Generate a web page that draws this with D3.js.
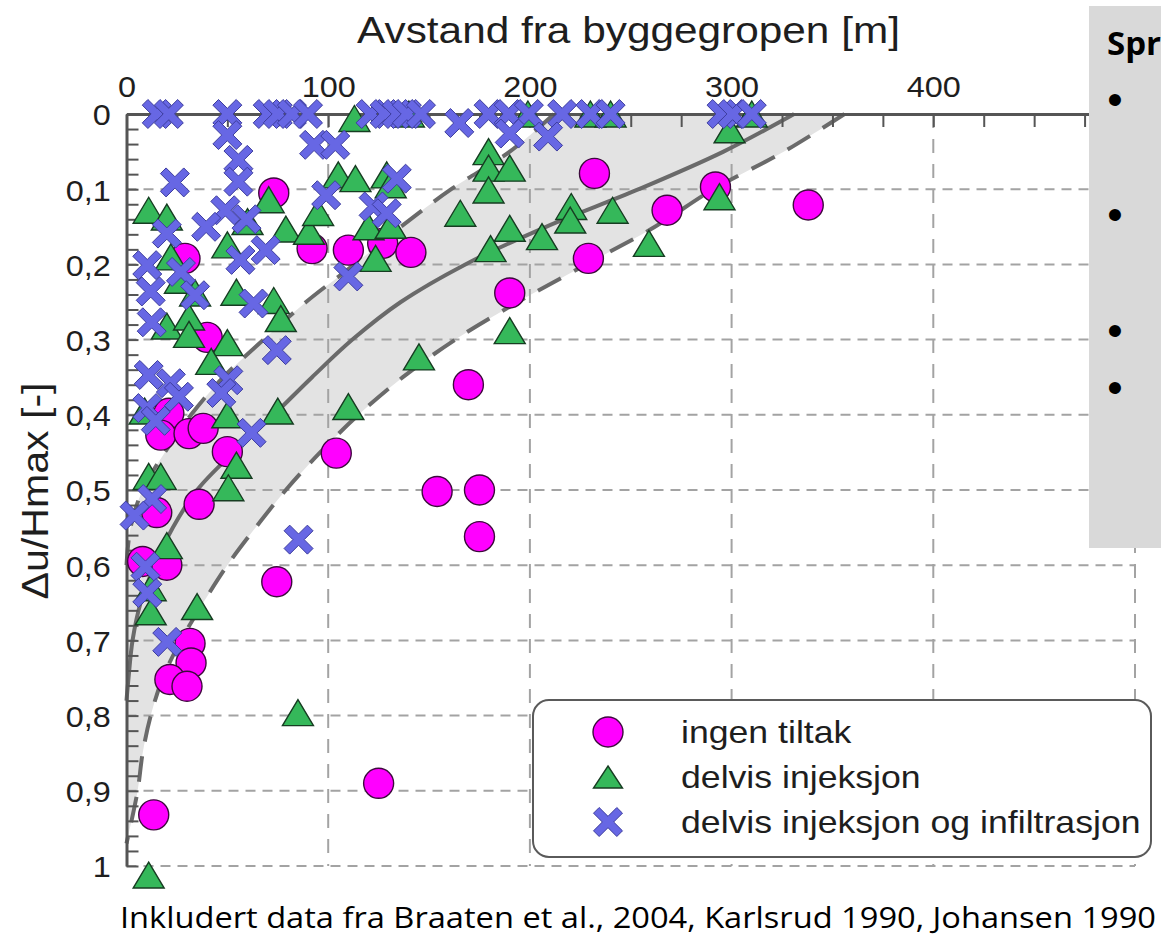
<!DOCTYPE html>
<html>
<head>
<meta charset="utf-8">
<script src="https://cdn.jsdelivr.net/npm/d3@7"></script>
<style>
  body { margin: 0; background: #fff; }
  text { font-family: "Liberation Sans", Arial, sans-serif; fill: #1e1e1e; }
</style>
</head>
<body>
<script>

var width = 1161,
	height = 938;

// axes
var xTicks = [0, 100, 200, 300, 400];
var yTicks = [0, 0.1, 0.2, 0.3, 0.4, 0.5, 0.6, 0.7, 0.8, 0.9, 1];
var yTickLabels = ["0", "0,1", "0,2", "0,3", "0,4", "0,5", "0,6", "0,7", "0,8", "0,9", "1"];
var xGrid = [100, 200, 300, 400, 500];
var yGrid = [0.1, 0.2, 0.3, 0.4, 0.5, 0.6, 0.7, 0.8, 0.9, 1];

// band curves
var bandLeftY = [0, 0.05, 0.1, 0.15, 0.2, 0.25, 0.3, 0.35, 0.4, 0.45, 0.5, 0.55, 0.6];
var bandLeftX = [212, 190, 161, 136, 113, 89, 68, 48, 32, 19, 8, 2, 0];
var meanY = [0, 0.05, 0.1, 0.15, 0.2, 0.25, 0.3, 0.35, 0.4, 0.45, 0.5, 0.55, 0.6, 0.65, 0.7, 0.75, 0.78];
var meanX = [331, 296, 254, 208, 168, 136, 112, 92, 73, 53, 35, 23, 14, 7, 3, 1, 0];
var bandRightY = [0, 0.05, 0.1, 0.15, 0.2, 0.25, 0.3, 0.35, 0.4, 0.45, 0.5, 0.55, 0.6, 0.65, 0.7, 0.75, 0.8, 0.85, 0.9, 0.97];
var bandRightX = [356, 326, 291, 262, 228, 194, 163, 137, 115, 96, 79, 64, 50, 38, 27, 18, 12, 8, 5.5, 0];

// ingen tiltak (circles)
var ingenX = [73, 92, 110, 127, 141, 29, 190, 232, 292, 268, 338, 229, 40, 21, 17, 31, 38, 50, 104, 169.5, 154, 175, 175, 15, 36, 8, 20, 74.5, 31.5, 32, 21.5, 30, 13.5, 125];
var ingenY = [0.105, 0.179, 0.181, 0.172, 0.184, 0.192, 0.238, 0.079, 0.097, 0.128, 0.121, 0.192, 0.297, 0.398, 0.427, 0.425, 0.418, 0.449, 0.451, 0.36, 0.502, 0.5, 0.562, 0.53, 0.519, 0.595, 0.6, 0.622, 0.704, 0.73, 0.752, 0.761, 0.932, 0.89];

// delvis injeksjon (triangles)
var delvisX = [11, 20, 22, 26.5, 34, 50, 60, 79, 90.5, 95, 70.5, 54.5, 73, 76.5, 105, 113.5, 129, 131, 120, 131, 123.5, 113, 140, 199, 179.5, 179.5, 190, 179.5, 165.5, 190, 206, 180.5, 220.5, 220, 241, 259, 294, 299, 230, 240, 310, 190, 145, 110, 20, 31, 31, 50, 42, 50, 75, 9, 54.5, 50.5, 11, 17, 20, 12, 12, 35, 85, 11];
var delvisY = [0.128, 0.137, 0.19, 0.221, 0.238, 0.174, 0.143, 0.153, 0.156, 0.131, 0.114, 0.237, 0.248, 0.272, 0.081, 0.086, 0.081, 0.094, 0.15, 0.148, 0.192, 0.006, 0, 0, 0.05, 0.072, 0.072, 0.101, 0.132, 0.152, 0.163, 0.179, 0.123, 0.141, 0.128, 0.172, 0.11, 0.021, 0, 0, 0, 0.288, 0.323, 0.389, 0.282, 0.27, 0.293, 0.304, 0.329, 0.4, 0.395, 0.395, 0.467, 0.497, 0.482, 0.482, 0.574, 0.63, 0.662, 0.655, 0.796, 1.012];

// delvis injeksjon og infiltrasjon (crosses)
var infilX = [15, 21, 50, 70, 75, 82, 90, 121, 128, 134, 139, 146, 179.5, 189.5, 199.5, 216, 230, 240, 295, 300.5, 310, 165, 50, 93, 103.5, 55.5, 55.5, 24, 99, 49, 59.5, 39.5, 20, 69, 56.5, 10.3, 27, 110, 122.5, 129, 134, 190, 209, 12, 34, 63, 12.5, 74.5, 11, 22, 26, 50.5, 47, 10.3, 14.5, 62, 12.7, 4, 85.3, 9.4, 10.3, 20.2];
var infilY = [0, 0, 0, 0, 0, 0, 0, 0, 0, 0, 0, 0, 0, 0, 0, 0, 0, 0, 0, 0, 0, 0.012, 0.028, 0.041, 0.041, 0.061, 0.09, 0.091, 0.108, 0.128, 0.14, 0.15, 0.159, 0.181, 0.194, 0.201, 0.21, 0.216, 0.123, 0.132, 0.086, 0.026, 0.03, 0.236, 0.241, 0.252, 0.277, 0.314, 0.347, 0.358, 0.376, 0.354, 0.371, 0.391, 0.408, 0.424, 0.512, 0.534, 0.566, 0.602, 0.637, 0.702];

var seriesNames = ["ingen tiltak", "delvis injeksjon", "delvis injeksjon og infiltrasjon"];

var magenta = "#ff00ff",
	green = "#35b85a",
	blue = "#6767e4",
	linecolor = "#6a6a6a",
	gridcolor = "#a3a3a3",
	axiscolor = "#555";

var X = d3.scaleLinear().domain([0, 500]).range([126.5, 1135]);
var Y = d3.scaleLinear().domain([0, 1]).range([114, 866]);

var svg = d3.select("body").append("svg")
	.attr("width", width)
	.attr("height", height);

// gray band

var curve = d3.line()
	.x(function(d){ return X(d[0]); })
	.y(function(d){ return Y(d[1]); })
	.curve(d3.curveCatmullRom.alpha(0.5));

var leftPts = d3.zip(bandLeftX, bandLeftY),
	rightPts = d3.zip(bandRightX, bandRightY),
	meanPts = d3.zip(meanX, meanY);

var bandPath = curve(leftPts)
	+ "L" + X(0) + "," + Y(1)
	+ curve(rightPts.slice().reverse()).replace(/^M/, "L")
	+ "Z";

svg.append("path")
	.attr("d", bandPath)
	.attr("fill", "#e3e3e3");

// grid

svg.selectAll(".hgrid").data(yGrid).enter().append("line")
	.attr("class", "hgrid")
	.attr("x1", X(0)).attr("x2", X(500))
	.attr("y1", function(d){ return Y(d); })
	.attr("y2", function(d){ return Y(d); })
	.attr("stroke", gridcolor).attr("stroke-width", 2)
	.attr("stroke-dasharray", "10,7");

svg.selectAll(".vgrid").data(xGrid).enter().append("line")
	.attr("class", "vgrid")
	.attr("x1", function(d){ return X(d); })
	.attr("x2", function(d){ return X(d); })
	.attr("y1", Y(0)).attr("y2", Y(1))
	.attr("stroke", gridcolor).attr("stroke-width", 2)
	.attr("stroke-dasharray", "14,11");

// curves

svg.append("path").attr("d", curve(leftPts))
	.attr("fill", "none").attr("stroke", linecolor).attr("stroke-width", 4)
	.attr("stroke-dasharray", "26,15");

svg.append("path").attr("d", curve(rightPts))
	.attr("fill", "none").attr("stroke", linecolor).attr("stroke-width", 4)
	.attr("stroke-dasharray", "26,15");

svg.append("path").attr("d", curve(meanPts))
	.attr("fill", "none").attr("stroke", linecolor).attr("stroke-width", 4);

// axes

var topMinor = d3.axisTop(X).tickValues(d3.range(0, 501, 25)).tickSizeInner(-13).tickSizeOuter(0).tickFormat("");
var leftMinor = d3.axisLeft(Y).tickValues(d3.range(0, 1.0001, 0.02)).tickSizeInner(-12).tickSizeOuter(0).tickFormat("");

var gTop = svg.append("g").attr("transform", "translate(0," + Y(0) + ")").call(topMinor);
var gLeft = svg.append("g").attr("transform", "translate(" + X(0) + ",0)").call(leftMinor);

[gTop, gLeft].forEach(function(g){
	g.select(".domain").attr("stroke", axiscolor).attr("stroke-width", 3);
	g.selectAll(".tick line").attr("stroke", axiscolor).attr("stroke-width", 2);
});

var topLabels = svg.append("g").attr("transform", "translate(0," + Y(0) + ")")
	.call(d3.axisTop(X).tickValues(xTicks).tickSize(0).tickFormat(d3.format("d")));
topLabels.select(".domain").remove();
topLabels.selectAll("text")
	.attr("y", -17).attr("dy", 0)
	.attr("transform", "scale(1.08,1)")
	.style("font-size", "30px").style("fill", "#1e1e1e");

var leftLabels = svg.append("g").attr("transform", "translate(" + X(0) + ",0)")
	.call(d3.axisLeft(Y).tickValues(yTicks).tickSize(0).tickFormat(function(d, i){ return yTickLabels[i]; }));
leftLabels.select(".domain").remove();
leftLabels.selectAll("text")
	.attr("x", -14.5).attr("dy", "0.36em")
	.attr("transform", "scale(1.08,1)")
	.style("font-size", "30px").style("fill", "#1e1e1e");

// titles

svg.append("text")
	.attr("x", 628.5).attr("y", 43)
	.attr("text-anchor", "middle")
	.attr("textLength", 543).attr("lengthAdjust", "spacingAndGlyphs")
	.style("font-size", "37px")
	.text("Avstand fra byggegropen [m]");

svg.append("text")
	.attr("transform", "translate(48,491) rotate(-90)")
	.attr("text-anchor", "middle")
	.attr("textLength", 217).attr("lengthAdjust", "spacingAndGlyphs")
	.style("font-size", "36px")
	.text("\u0394u/Hmax [-]");

// markers

function trianglePath(w, h){
	return "M0," + (-h / 2) + "L" + (w / 2) + "," + (h / 2) + "L" + (-w / 2) + "," + (h / 2) + "Z";
}

function crossPath(half, t){
	var k = t * Math.SQRT2, L = 2 * half - k;
	var a = (L - k) / 2, b = (L + k) / 2;
	var p = [[0, -k], [a, -b], [b, -a], [k, 0], [b, a], [a, b], [0, k], [-a, b], [-b, a], [-k, 0], [-b, -a], [-a, -b]];
	return "M" + p.map(function(q){ return q.join(","); }).join("L") + "Z";
}

var triD = trianglePath(31, 26),
	crossD = crossPath(14.5, 4);

svg.selectAll(".ingen").data(d3.zip(ingenX, ingenY)).enter().append("circle")
	.attr("class", "ingen")
	.attr("cx", function(d){ return X(d[0]); })
	.attr("cy", function(d){ return Y(d[1]); })
	.attr("r", 15)
	.attr("fill", magenta).attr("stroke", "#3d0a3d").attr("stroke-width", 1.4);

svg.selectAll(".delvis").data(d3.zip(delvisX, delvisY)).enter().append("path")
	.attr("class", "delvis")
	.attr("d", triD)
	.attr("transform", function(d){ return "translate(" + X(d[0]) + "," + Y(d[1]) + ")"; })
	.attr("fill", green).attr("stroke", "#173d22").attr("stroke-width", 1.4);

svg.selectAll(".infil").data(d3.zip(infilX, infilY)).enter().append("path")
	.attr("class", "infil")
	.attr("d", crossD)
	.attr("transform", function(d){ return "translate(" + X(d[0]) + "," + Y(d[1]) + ")"; })
	.attr("fill", blue).attr("stroke", "#3d3d9e").attr("stroke-width", 1);

// legend

var legend = svg.append("g");
legend.append("rect")
	.attr("x", 533).attr("y", 700).attr("width", 618).attr("height", 157)
	.attr("rx", 16).attr("ry", 16)
	.attr("fill", "#fff").attr("stroke", "#5a5a5a").attr("stroke-width", 2);

var rows = legend.selectAll(".row").data(seriesNames).enter().append("g")
	.attr("class", "row")
	.attr("transform", function(d, i){ return "translate(608," + (732 + i * 45) + ")"; });

rows.filter(function(d, i){ return i == 0; }).append("circle")
	.attr("r", 15).attr("fill", magenta).attr("stroke", "#3d0a3d").attr("stroke-width", 1.4);
rows.filter(function(d, i){ return i == 1; }).append("path")
	.attr("d", trianglePath(29, 22)).attr("fill", green).attr("stroke", "#173d22").attr("stroke-width", 1.4);
rows.filter(function(d, i){ return i == 2; }).append("path")
	.attr("d", crossD).attr("fill", blue).attr("stroke", "#3d3d9e").attr("stroke-width", 1);

rows.append("text")
	.attr("transform", "translate(73,11) scale(1.15,1)")
	.style("font-size", "31px")
	.text(function(d){ return d; });

// right gray panel

svg.append("rect")
	.attr("x", 1089).attr("y", 6).attr("width", 80).attr("height", 542)
	.attr("fill", "#d9d9d9");

svg.append("text")
	.attr("x", 1107).attr("y", 55)
	.style("font-family", "'Open Sans', sans-serif")
	.style("font-weight", "bold").style("font-size", "33px").style("fill", "#000")
	.text("Spr");

svg.selectAll(".bullet").data([100, 215, 331, 388]).enter().append("text")
	.attr("class", "bullet")
	.attr("x", 1115).attr("y", function(d){ return d + 15; })
	.attr("text-anchor", "middle")
	.style("font-size", "44px").style("fill", "#000")
	.text("\u2022");

// source line

svg.append("text")
	.attr("x", 120).attr("y", 928)
	.attr("textLength", 1036).attr("lengthAdjust", "spacingAndGlyphs")
	.style("font-family", "'Open Sans', sans-serif")
	.style("font-size", "30px").style("fill", "#000")
	.text("Inkludert data fra Braaten et al., 2004, Karlsrud 1990, Johansen 1990");

</script>
</body>
</html>
